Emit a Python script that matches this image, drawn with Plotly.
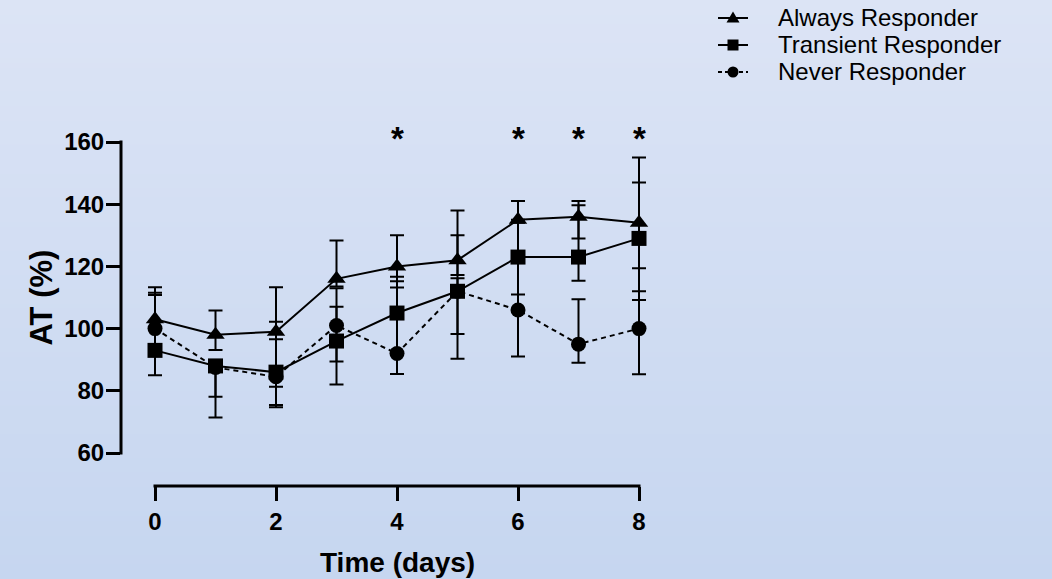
import plotly.graph_objects as go

# ---- data -------------------------------------------------------------
days = [0, 1, 2, 3, 4, 5, 6, 7, 8]
series_names = ["Always Responder", "Transient Responder", "Never Responder"]

always = [103, 98, 99, 116, 120, 122, 135, 136, 134]
always_err_up = [10.3, 7.8, 14.3, 12.3, 10, 16, 6, 5, 21]
always_err_down = [10, 4.9, 17.7, 2.5, 4.8, 4.8, 1, 7, 22]

transient = [93, 88, 86, 96, 105, 112, 123, 123, 129]
transient_err_up = [17.8, 1, 16.2, 17, 11.7, 18, 12, 16.7, 18]
transient_err_down = [8, 16.6, 11.3, 14, 13, 13.7, 12, 7.6, 19.8]

never = [100, 87.5, 84.5, 101, 92, 112, 106, 95, 100]
never_err_up = [11.5, 2, 12.1, 6, 21.2, 4.2, 16, 14.4, 19.4]
never_err_down = [8, 9.4, 9.1, 11.6, 6.6, 21.7, 15, 6, 14.7]

sig_days = [4, 6, 7, 8]
x_ticks = [0, 2, 4, 6, 8]
y_ticks = [60, 80, 100, 120, 140, 160]

# ---- geometry (pixels) ------------------------------------------------
W, H = 1052, 579
PL, PR, PT, PB = 121, 680, 100, 486          # plot-area edges
X0_PX, X8_PX = 155, 639                     # day 0 / day 8
Y60_PX, Y160_PX = 453, 142                  # 60 % / 160 %
px_per_day = (X8_PX - X0_PX) / 8
px_per_unit = (Y60_PX - Y160_PX) / 100

x_range = [(PL - X0_PX) / px_per_day, 8 + (PR - X8_PX) / px_per_day]
y_range = [60 - (PB - Y60_PX) / px_per_unit, 160 + (Y160_PX - PT) / px_per_unit]


def paper_x(px):
    return (px - PL) / (PR - PL)


def paper_y(py):
    return (PB - py) / (PB - PT)


FONT = "Liberation Sans, Arial, Helvetica, sans-serif"
INK = "black"

fig = go.Figure()

styles = {
    "Always Responder": dict(symbol="triangle-up", size=16, dash="solid"),
    "Transient Responder": dict(symbol="square", size=15, dash="solid"),
    "Never Responder": dict(symbol="circle", size=15, dash="5px,4px"),
}
values = {
    "Always Responder": (always, always_err_up, always_err_down),
    "Transient Responder": (transient, transient_err_up, transient_err_down),
    "Never Responder": (never, never_err_up, never_err_down),
}

# draw bottom-most group first so triangles sit on top
for name in ["Never Responder", "Transient Responder", "Always Responder"]:
    yv, up, down = values[name]
    st = styles[name]
    fig.add_trace(go.Scatter(
        x=days, y=yv, name=name, mode="lines+markers",
        line=dict(color=INK, width=2, dash=st["dash"]),
        marker=dict(symbol=st["symbol"], size=st["size"], color=INK,
                    line=dict(width=0)),
        error_y=dict(type="data", symmetric=False, array=up, arrayminus=down,
                     color=INK, thickness=2, width=7),
        cliponaxis=False, showlegend=False,
    ))

shapes = []

# soft vertical background gradient
top_rgb = (220, 228, 245)
bot_rgb = (198, 214, 240)
n_bands = 120
for i in range(n_bands):
    t = i / (n_bands - 1)
    c = tuple(round(a + (b - a) * t) for a, b in zip(top_rgb, bot_rgb))
    y_top = i * H / n_bands
    y_bot = (i + 1) * H / n_bands + 1
    shapes.append(dict(
        type="rect", xref="paper", yref="paper", layer="below",
        x0=paper_x(-2), x1=paper_x(W + 2), y0=paper_y(y_bot), y1=paper_y(y_top),
        fillcolor="rgb(%d,%d,%d)" % c, line=dict(width=0),
    ))

# offset axis lines
shapes.append(dict(type="line", xref="paper", yref="y", x0=0, x1=0,
                   y0=60 - 0.5, y1=160 + 0.5, line=dict(color=INK, width=3)))
shapes.append(dict(type="line", xref="x", yref="paper", x0=-0.025, x1=8.025,
                   y0=0, y1=0, line=dict(color=INK, width=3)))

# legend keys
leg_rows = [18, 45, 72]
leg_line = (718, 748)
leg_mark = 733
leg_text_x = 777
for name, ry in zip(series_names, leg_rows):
    dash = "4px,3px" if name == "Never Responder" else "solid"
    shapes.append(dict(type="line", xref="paper", yref="paper",
                       x0=paper_x(leg_line[0]), x1=paper_x(leg_line[1]),
                       y0=paper_y(ry), y1=paper_y(ry),
                       line=dict(color=INK, width=2, dash=dash)))
    sym = styles[name]["symbol"]
    if sym == "triangle-up":
        path = "M %f,%f L %f,%f L %f,%f Z" % (
            paper_x(leg_mark - 6.5), paper_y(ry + 4.5),
            paper_x(leg_mark + 6.5), paper_y(ry + 4.5),
            paper_x(leg_mark), paper_y(ry - 6.5))
        shapes.append(dict(type="path", xref="paper", yref="paper", path=path,
                           fillcolor=INK, line=dict(width=0)))
    elif sym == "square":
        shapes.append(dict(type="rect", xref="paper", yref="paper",
                           x0=paper_x(leg_mark - 5.5), x1=paper_x(leg_mark + 5.5),
                           y0=paper_y(ry + 5.5), y1=paper_y(ry - 5.5),
                           fillcolor=INK, line=dict(width=0)))
    else:
        shapes.append(dict(type="circle", xref="paper", yref="paper",
                           x0=paper_x(leg_mark - 5.5), x1=paper_x(leg_mark + 5.5),
                           y0=paper_y(ry + 5.5), y1=paper_y(ry - 5.5),
                           fillcolor=INK, line=dict(width=0)))

annotations = []
for name, ry in zip(series_names, leg_rows):
    annotations.append(dict(
        text=name, xref="paper", yref="paper", x=paper_x(leg_text_x), y=paper_y(ry),
        xanchor="left", yanchor="middle", showarrow=False, borderpad=0,
        font=dict(family=FONT, size=24, color=INK)))

# significance markers
for d in sig_days:
    annotations.append(dict(
        text="<b>*</b>", x=d, y=161.0, xref="x", yref="y",
        xanchor="center", yanchor="middle", showarrow=False,
        font=dict(family=FONT, size=33, color=INK)))

# axis titles
annotations.append(dict(
    text="<b>Time (days)</b>", x=4, y=paper_y(562), xref="x", yref="paper",
    xanchor="center", yanchor="middle", showarrow=False,
    font=dict(family=FONT, size=28, color=INK)))
annotations.append(dict(
    text="<b>AT (%)</b>", x=paper_x(41), y=110, xref="paper", yref="y",
    xanchor="center", yanchor="middle", textangle=-90, showarrow=False,
    font=dict(family=FONT, size=31, color=INK)))

fig.update_layout(
    width=W, height=H,
    margin=dict(l=PL, r=W - PR, t=PT, b=H - PB, pad=0),
    paper_bgcolor="rgb(209,221,242)",
    plot_bgcolor="rgba(0,0,0,0)",
    shapes=shapes, annotations=annotations,
    showlegend=False,
    xaxis=dict(range=x_range, tickmode="array", tickvals=x_ticks,
               ticktext=["<b>%d</b>" % v for v in x_ticks],
               ticks="outside", ticklen=14, tickwidth=3, tickcolor=INK,
               showline=False, showgrid=False, zeroline=False,
               ticklabelstandoff=0,
               tickfont=dict(family=FONT, size=24, color=INK)),
    yaxis=dict(range=y_range, tickmode="array", tickvals=y_ticks,
               ticktext=["<b>%d</b>" % v for v in y_ticks],
               ticks="outside", ticklen=14, tickwidth=3, tickcolor=INK,
               showline=False, showgrid=False, zeroline=False,
               ticklabelstandoff=-3,
               tickfont=dict(family=FONT, size=24, color=INK)),
)

fig.write_html("out.html")
